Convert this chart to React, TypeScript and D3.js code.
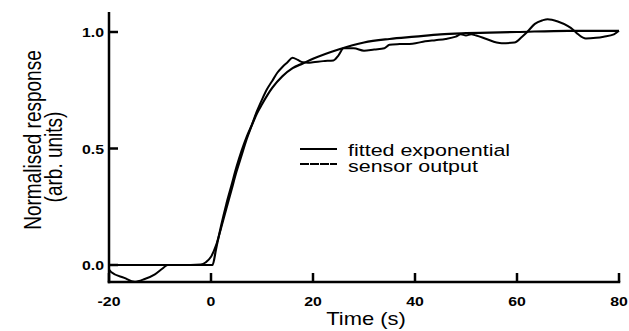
import React from "react";
import * as d3 from "d3";

const xTicks = [-20, 0, 20, 40, 60, 80];
const yTicks = [0, 0.5, 1.0];
const yTickLabels = ["0.0", "0.5", "1.0"];

const fitT = [-20, 0.3, 1, 2, 3, 4, 5, 6, 7, 8, 9, 10, 12, 14, 16, 18, 20, 25, 30, 35, 40, 45, 50, 60, 70, 80];
const fitV = [0, 0, 0.07, 0.17, 0.26, 0.34, 0.42, 0.49, 0.55, 0.6, 0.65, 0.69, 0.76, 0.81, 0.845, 0.865, 0.885, 0.925, 0.955, 0.97, 0.98, 0.99, 0.995, 1.0, 1.005, 1.005];

const sensT = [-20, -19.6, -17, -15, -13, -11, -9.5, -8.5, -6, -4, -2, -1, 0, 1, 2, 3, 4, 5, 6, 7, 8, 9, 10, 11, 12, 13, 14, 15, 16, 17, 18, 19, 20, 22, 24, 25, 26, 28, 30, 32, 34, 35, 37, 39.5, 42, 44, 46, 48, 49, 50, 51, 52, 54, 56, 57, 59.5, 61, 62, 63.5, 65, 66, 68, 70, 71, 72, 73.5, 75.5, 77, 79, 80];
const sensV = [-0.02, -0.03, -0.055, -0.072, -0.06, -0.04, -0.015, 0, 0, 0, 0.002, 0.012, 0.035, 0.085, 0.16, 0.24, 0.32, 0.4, 0.47, 0.54, 0.6, 0.66, 0.71, 0.755, 0.79, 0.825, 0.85, 0.87, 0.89, 0.88, 0.87, 0.868, 0.87, 0.875, 0.878, 0.9, 0.93, 0.93, 0.92, 0.925, 0.93, 0.945, 0.948, 0.95, 0.96, 0.965, 0.97, 0.98, 0.99, 0.985, 0.99, 0.985, 0.97, 0.955, 0.952, 0.955, 0.98, 1.0, 1.035, 1.05, 1.055, 1.045, 1.025, 1.01, 0.99, 0.972, 0.975, 0.98, 0.99, 1.005];

const legendLabels = ["fitted exponential", "sensor output"];

const SX = 1.22;
const FONT = "'Liberation Sans', Arial, Helvetica, sans-serif";

export default function App() {
  const x = d3.scaleLinear().domain([-20, 80]).range([109, 619]);
  const y = d3.scaleLinear().domain([0, 1]).range([265, 32]);
  const xAxisY = 282;
  const yAxisTop = 12;

  const line = d3
    .line<[number, number]>()
    .x((d) => x(d[0]))
    .y((d) => y(d[1]))
    .curve(d3.curveMonotoneX);

  const fitPts = fitT.map((t, i) => [t, fitV[i]] as [number, number]);
  const sensPts = sensT.map((t, i) => [t, sensV[i]] as [number, number]);

  const T = (
    px: number,
    py: number,
    s: string,
    size: number,
    anchor: string,
    weight: string | number = "normal",
    rotate = false,
    sx = SX
  ) => (
    <text
      transform={`translate(${px},${py}) scale(${sx},1)${rotate ? " rotate(-90)" : ""}`}
      fontSize={size}
      fontFamily={FONT}
      fontWeight={weight}
      textAnchor={anchor}
      fill="#000"
    >
      {s}
    </text>
  );

  return (
    <svg width={629} height={331} style={{ position: "absolute", left: 0, top: 0, background: "#fff" }}>
      <rect x={0} y={0} width={629} height={331} fill="#fff" />
      <defs>
        <clipPath id="plotclip">
          <rect x={x(-20)} y={0} width={x(80) - x(-20) + 2} height={xAxisY} />
        </clipPath>
      </defs>
      <g clipPath="url(#plotclip)" fill="none" stroke="#000" strokeLinejoin="round">
        <path d={line(fitPts) || ""} strokeWidth={2.2} />
        <path d={line(sensPts) || ""} strokeWidth={2} />
      </g>
      <g stroke="#000" strokeWidth={2.5} fill="none">
        <line x1={x(-20)} x2={x(-20)} y1={yAxisTop} y2={xAxisY + 1.25} />
        <line x1={x(-20) - 1.25} x2={x(80) + 1.25} y1={xAxisY} y2={xAxisY} />
        {xTicks.map((t) => (
          <line key={"xt" + t} x1={x(t)} x2={x(t)} y1={xAxisY} y2={xAxisY - 9} />
        ))}
        {yTicks.map((t) => (
          <line key={"yt" + t} x1={x(-20)} x2={x(-20) + 9} y1={y(t)} y2={y(t)} />
        ))}
      </g>
      {xTicks.map((t) => (
        <g key={"xl" + t}>{T(x(t), 306, String(t), 13, "middle", "bold")}</g>
      ))}
      {yTicks.map((t, i) => (
        <g key={"yl" + t}>{T(104, y(t) + 5, yTickLabels[i], 13, "end", "bold")}</g>
      ))}
      {T(366, 325, "Time (s)", 18, "middle")}
      {T(41, 140, "Normalised response", 19, "middle", "normal", true)}
      {T(62, 157, "(arb. units)", 19, "middle", "normal", true)}
      <g stroke="#000" fill="none">
        <line x1={300} x2={337} y1={149} y2={149} strokeWidth={2.2} />
        <line x1={300} x2={337} y1={164} y2={164} strokeWidth={2.2} strokeDasharray="9,1" />
      </g>
      {T(348, 155.5, legendLabels[0], 16.5, "start", "normal", false, 1.3)}
      {T(348, 172, legendLabels[1], 16.5, "start", "normal", false, 1.3)}
    </svg>
  );
}
